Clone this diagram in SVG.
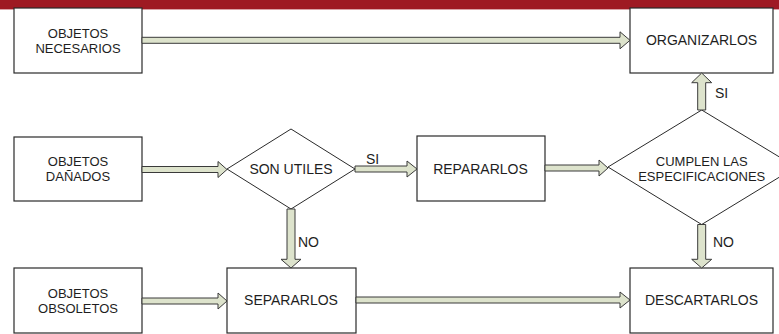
<svg xmlns="http://www.w3.org/2000/svg" width="779" height="334" viewBox="0 0 779 334">
  <style>
    .box { fill: #ffffff; stroke: #2a2a2a; stroke-width: 1.2; }
    .dia { fill: #ffffff; stroke: #2a2a2a; stroke-width: 1; }
    .arr { fill: #dde3cc; stroke: #3a3a3a; stroke-width: 1; stroke-linejoin: miter; }
    text { font-family: "Liberation Sans", Arial, sans-serif; font-size: 14px; fill: #1e1e1e; }
    .c { text-anchor: middle; }
    .two { font-size: 13px; }
  </style>

  <!-- header band -->
  <rect x="0" y="0" width="779" height="9" fill="#9e1a23"/>
  <rect x="0" y="9" width="779" height="1" fill="#d9a2a6"/>

  <g id="objetos-necesarios">
    <rect class="box" x="14" y="8" width="128" height="65"/>
    <text class="c two" x="78" y="37.5">OBJETOS</text>
    <text class="c two" x="78" y="52.5">NECESARIOS</text>
  </g>

  <g id="organizarlos">
    <rect class="box" x="630" y="8" width="143" height="65"/>
    <text class="c" x="701.5" y="45">ORGANIZARLOS</text>
  </g>

  <g id="objetos-danados">
    <rect class="box" x="14" y="137" width="128" height="64"/>
    <text class="c two" x="78" y="166">OBJETOS</text>
    <text class="c two" x="78" y="181">DAÑADOS</text>
  </g>

  <g id="son-utiles">
    <polygon class="dia" points="291,129 355,169 291,209 227,169"/>
    <text class="c" x="291" y="174">SON UTILES</text>
  </g>

  <g id="repararlos">
    <rect class="box" x="417" y="136" width="128" height="65"/>
    <text class="c" x="480.5" y="174">REPARARLOS</text>
  </g>

  <g id="cumplen-especificaciones">
    <polygon class="dia" points="701.7,110 796,167 701.7,224.5 608,167"/>
    <text class="c two" x="701.7" y="166">CUMPLEN LAS</text>
    <text class="c two" x="701.7" y="181">ESPECIFICACIONES</text>
  </g>

  <g id="objetos-obsoletos">
    <rect class="box" x="14" y="268" width="128" height="65"/>
    <text class="c two" x="78" y="297.5">OBJETOS</text>
    <text class="c two" x="78" y="312.5">OBSOLETOS</text>
  </g>

  <g id="separarlos">
    <rect class="box" x="227" y="268" width="129" height="65"/>
    <text class="c" x="291" y="304.5">SEPARARLOS</text>
  </g>

  <g id="descartarlos">
    <rect class="box" x="630" y="268" width="143" height="65"/>
    <text class="c" x="701.5" y="305">DESCARTARLOS</text>
  </g>

  <!-- block arrows -->
  <g id="connectors">
    <polygon class="arr" points="142,37.3 620,37.3 620,31.8 630,40.3 620,48.8 620,43.3 142,43.3"/>
    <polygon class="arr" points="142,166.5 218,166.5 218,161.5 227,169.5 218,177.5 218,172.5 142,172.5"/>
    <polygon class="arr" points="355,166 407,166 407,161 417,169 407,177 407,172 355,172"/>
    <polygon class="arr" points="545,165 599,165 599,160 608,168 599,176 599,171 545,171"/>
    <polygon class="arr" points="142,298 218,298 218,293 227,301 218,309 218,304 142,304"/>
    <polygon class="arr" points="356,297 620,297 620,292 630,300 620,308 620,303 356,303"/>
    <polygon class="arr" points="697.7,110 697.7,82.7 691.7,82.7 701.7,73 711.7,82.7 705.7,82.7 705.7,110"/>
    <polygon class="arr" points="287,209 287,259.3 281,259.3 291,268 301,259.3 295,259.3 295,209"/>
    <polygon class="arr" points="697.7,224.5 697.7,259.3 691.7,259.3 701.7,268 711.7,259.3 705.7,259.3 705.7,224.5"/>
    <text x="366" y="164">SI</text>
    <text x="715" y="97.5">SI</text>
    <text x="298" y="246.7">NO</text>
    <text x="713" y="246.7">NO</text>
  </g>
</svg>
